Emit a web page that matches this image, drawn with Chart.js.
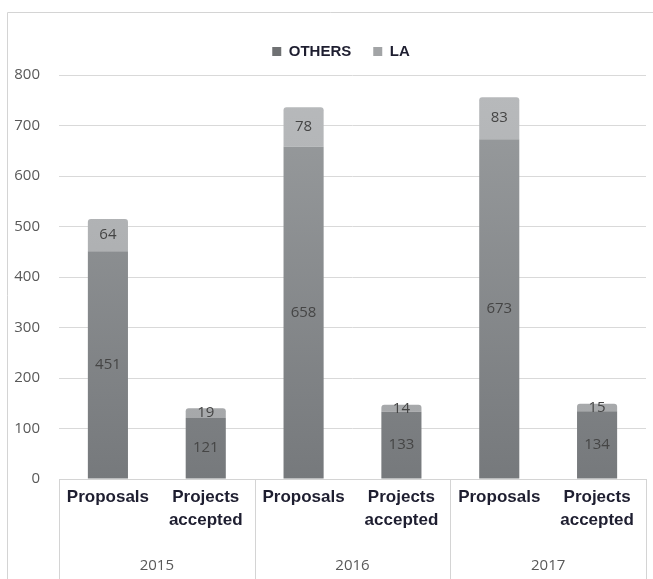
<!DOCTYPE html>
<html>
<head>
<meta charset="utf-8">
<script src="https://cdn.jsdelivr.net/npm/chart.js@4/dist/chart.umd.min.js"></script>
<style>
  html, body { margin: 0; padding: 0; background: #fff; }
  #wrap { width: 653px; height: 579px; }
</style>
</head>
<body>
<div id="wrap"><canvas id="chart" width="653" height="579"></canvas></div>
<script>
// categories (two levels: item + year)
let items = [['Proposals'], ['Projects', 'accepted'], ['Proposals'], ['Projects', 'accepted'], ['Proposals'], ['Projects', 'accepted']];
let years = ['2015', '2016', '2017'];

// series values
let others = [451, 121, 658, 133, 673, 134];
let la = [64, 19, 78, 14, 83, 15];

// y axis ticks
let yMin = 0;
let yMax = 800;
let yStep = 100;

// vertical gradient over the plot area
function grad(bottom, top) {
    return (context) => {
        let chart = context.chart;
        let area = chart.chartArea;
        if (!area) return bottom;
        let g = chart.ctx.createLinearGradient(0, area.bottom, 0, area.top);
        g.addColorStop(0, bottom);
        g.addColorStop(1, top);
        return g;
    };
}

// frame round the picture
let framePlugin = {
    id: 'frame',
    beforeDraw(chart) {
        let c = chart.ctx;
        c.save();
        c.strokeStyle = '#d4d4d4';
        c.lineWidth = 1;
        c.beginPath();
        c.moveTo(7.5, 579);
        c.lineTo(7.5, 12.5);
        c.lineTo(653, 12.5);
        c.stroke();
        c.restore();
    }
};

// value labels in the middle of each segment
let valuePlugin = {
    id: 'values',
    afterDatasetsDraw(chart) {
        let c = chart.ctx;
        c.save();
        c.font = '15px "Open Sans"';
        c.fillStyle = '#454545';
        c.textAlign = 'center';
        c.textBaseline = 'middle';
        chart.data.datasets.forEach((ds, i) => {
            chart.getDatasetMeta(i).data.forEach((bar, j) => {
                c.fillText(ds.data[j], bar.x, (bar.y + bar.base) / 2);
            });
        });
        c.restore();
    }
};

// year row and group separators under the x axis
let groupPlugin = {
    id: 'groups',
    afterDraw(chart) {
        let c = chart.ctx;
        let x = chart.scales.x;
        let area = chart.chartArea;
        let per = items.length / years.length;
        let edges = [area.left];
        for (let g = 1; g < years.length; g++) {
            edges.push((x.getPixelForValue(g * per - 1) + x.getPixelForValue(g * per)) / 2);
        }
        edges.push(area.right);
        c.save();
        c.strokeStyle = '#d4d4d4';
        c.lineWidth = 1;
        edges.forEach((e) => {
            let px = Math.round(e) + 0.5;
            c.beginPath();
            c.moveTo(px, area.bottom);
            c.lineTo(px, 579);
            c.stroke();
        });
        c.font = '15px "Open Sans"';
        c.fillStyle = '#595959';
        c.textAlign = 'center';
        c.textBaseline = 'middle';
        years.forEach((y, g) => {
            c.fillText(y, (edges[g] + edges[g + 1]) / 2, 566);
        });
        c.restore();
    }
};

// legend sits a bit lower and right of centre in the original
let legendPlugin = {
    id: 'legendRoom',
    beforeInit(chart) {
        let fit = chart.legend.fit;
        chart.legend.fit = function () {
            fit.bind(chart.legend)();
            this.height += 6;
        };
    },
    afterLayout(chart) {
        chart.legend.left += 18;
        chart.legend.right += 18;
    }
};

let ctx = document.getElementById('chart').getContext('2d');

let chart = new Chart(ctx, {
    type: 'bar',
    data: {
        labels: items,
        datasets: [
            {
                label: 'OTHERS',
                data: others,
                backgroundColor: grad('#76797c', '#9b9ea0'),
                legendColor: '#6f7173'
            },
            {
                label: 'LA',
                data: la,
                backgroundColor: grad('#a3a5a7', '#b8babc'),
                borderRadius: { topLeft: 3, topRight: 3 },
                borderSkipped: false,
                legendColor: '#a2a4a6'
            }
        ]
    },
    options: {
        responsive: false,
        animation: false,
        layout: {
            padding: { top: 22, right: 7, left: 0, bottom: 0 }
        },
        datasets: {
            bar: {
                categoryPercentage: 1,
                barPercentage: 0.41
            }
        },
        plugins: {
            legend: {
                position: 'top',
                labels: {
                    boxWidth: 9,
                    boxHeight: 9,
                    padding: 22,
                    color: '#1e1e30',
                    font: { family: '"Liberation Sans", Arial, sans-serif', size: 15, weight: 'bold' },
                    generateLabels: (chart) => chart.data.datasets.map((ds, i) => ({
                        text: ds.label,
                        fillStyle: ds.legendColor,
                        strokeStyle: ds.legendColor,
                        lineWidth: 0,
                        fontColor: '#1e1e30',
                        datasetIndex: i
                    }))
                }
            },
            tooltip: { enabled: false }
        },
        scales: {
            x: {
                stacked: true,
                grid: { display: false, drawTicks: false },
                border: { display: true, color: '#d4d4d4' },
                ticks: {
                    padding: 7,
                    maxRotation: 0,
                    autoSkip: false,
                    color: '#1e1e30',
                    font: { family: '"Liberation Sans", Arial, sans-serif', size: 17, weight: 'bold', lineHeight: 1.35 }
                },
                afterFit: (scale) => { scale.height = 100; }
            },
            y: {
                stacked: true,
                min: yMin,
                max: yMax,
                grid: { color: '#d9d9d9', drawTicks: false },
                border: { display: false },
                ticks: {
                    stepSize: yStep,
                    padding: 19,
                    color: '#595959',
                    font: { family: '"Open Sans", sans-serif', size: 15 }
                },
                afterFit: (scale) => { scale.width = 59; }
            }
        }
    },
    plugins: [framePlugin, valuePlugin, groupPlugin, legendPlugin]
});
</script>
</body>
</html>
